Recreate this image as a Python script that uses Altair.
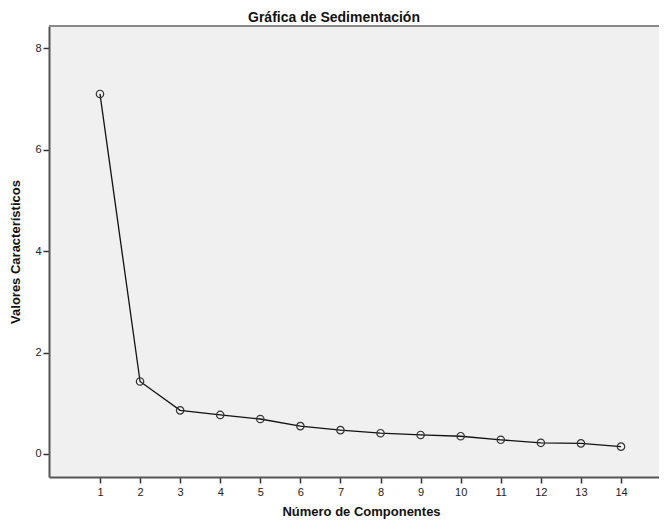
import altair as alt
import pandas as pd

componentes = [1, 2, 3, 4, 5, 6, 7, 8, 9, 10, 11, 12, 13, 14]
valores = [7.10, 1.43, 0.86, 0.77, 0.69, 0.55, 0.47, 0.41, 0.375, 0.35, 0.28, 0.22, 0.21, 0.145]
x_ticks = componentes
y_ticks = [0, 2, 4, 6, 8]

df = pd.DataFrame({"comp": componentes, "val": valores})

FONT = "Liberation Sans"
W, H = 610, 451

x = alt.X(
    "comp:Q",
    scale=alt.Scale(domain=[-0.272, 14.948], nice=False, zero=False),
    axis=alt.Axis(
        values=x_ticks, title="Número de Componentes", grid=False,
        tickSize=6, labelPadding=3, tickColor="#333", tickWidth=1.5,
        domainColor="#555", domainWidth=2, labelFontSize=11, labelColor="#222",
        labelFont=FONT, titleFont=FONT, titleFontSize=13, titleFontWeight="bold",
        titleColor="#111", titleX=312, titleY=34, titleBaseline="middle",
        titleAnchor="middle", titleAlign="center",
    ),
)
y = alt.Y(
    "val:Q",
    scale=alt.Scale(domain=[-0.454, 8.44], nice=False, zero=False),
    axis=alt.Axis(
        values=y_ticks, title="Valores Característicos", grid=False,
        tickSize=6, labelPadding=2, tickColor="#333", tickWidth=1.5,
        domainColor="#555", domainWidth=2, labelFontSize=11, labelColor="#222",
        labelFont=FONT, titleFont=FONT, titleFontSize=13, titleFontWeight="bold",
        titleColor="#111", titleAngle=-90, titleX=-34, titleY=H / 2,
        titleBaseline="middle", titleAlign="center",
    ),
)

base = alt.Chart(df)
frame_top = base.mark_rule(color="#8a8a8a", strokeWidth=1.5).encode(
    x=alt.value(0), x2=alt.value(W), y=alt.value(0)
)
line = base.mark_line(color="#111", strokeWidth=1.3).encode(x=x, y=y)
pts = base.mark_point(shape="circle", filled=False, size=55, color="#333",
                      strokeWidth=1.2, opacity=1).encode(x=x, y=y)

chart = (
    alt.layer(frame_top, line, pts)
    .properties(
        width=W, height=H,
        autosize=alt.AutoSizeParams(type="none"),
        padding={"left": 41, "top": 18, "right": 0, "bottom": 44},
        title=alt.TitleParams(
            "Gráfica de Sedimentación", font=FONT, fontSize=14, fontWeight="bold",
            color="#111", anchor="middle", dx=-20, dy=5, offset=5,
        ),
        background="white",
    )
    .configure_view(fill="#f0f0f0", stroke=None)
)

chart.save("out.html", embed_options={"renderer": "svg", "actions": False})
